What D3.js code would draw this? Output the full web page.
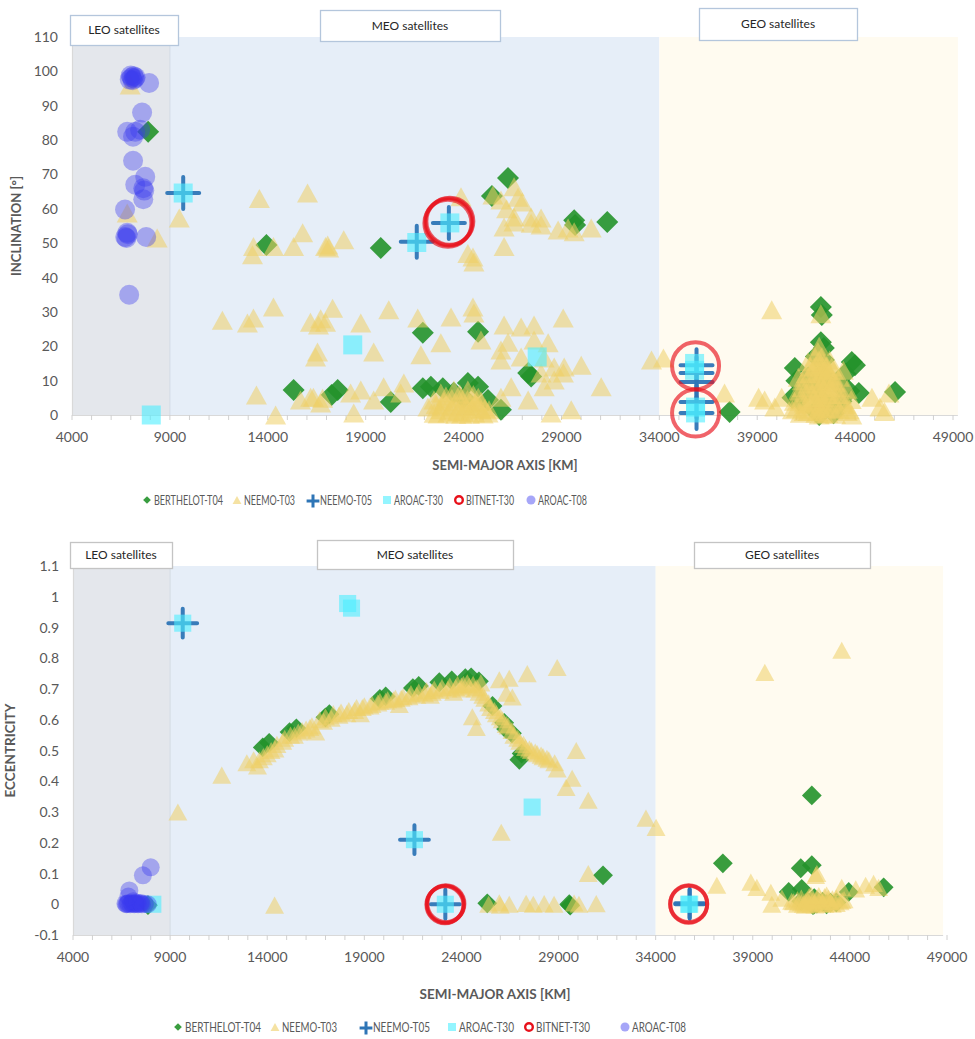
<!DOCTYPE html>
<html><head><meta charset="utf-8">
<script src="https://cdn.jsdelivr.net/npm/d3@7"></script>
<style>body{margin:0;background:#fff}svg{display:block}</style>
</head><body>
<svg id="chart" width="975" height="1039"></svg>
<script>
// ---------- axis ticks & categories ----------
const xTicks = [4000, 9000, 14000, 19000, 24000, 29000, 34000, 39000, 44000, 49000];
const incTicks = [0, 10, 20, 30, 40, 50, 60, 70, 80, 90, 100, 110];
const eccTicks = [-0.1, 0, 0.1, 0.2, 0.3, 0.4, 0.5, 0.6, 0.7, 0.8, 0.9, 1, 1.1];
const regionNames = ["LEO satellites", "MEO satellites", "GEO satellites"];
const regionBounds = [4000, 9000, 34000];   // semi-major axis [km] where each band starts
const seriesNames = ["BERTHELOT-T04", "NEEMO-T03", "NEEMO-T05", "AROAC-T30", "BITNET-T30", "AROAC-T08"];

// ---------- inclination chart: [semi-major axis km, inclination deg] ----------
const berthelotInc = [[7890,82.4],[13930,49.5],[15320,7.3],[17260,5.8],[17570,7.3],[19770,48.6],[21920,23.9],[24740,24.2],[27300,12.2],[27450,11.2],
 [29650,56.7],[29700,55.3],[31340,56.2],[26270,69],[25450,63.7],
 [20280,3.8],[21920,7.8],[22330,8.2],[22940,7.8],[24220,9.3],[24740,8.2],[25250,4.4],[25910,1.5],[23500,6.5],[24000,5],
 [42250,31.4],[42300,29.1],[42250,21.2],[42400,19.5],[40920,13.7],[43830,15.4],[43990,14.5],[41120,4.4],[44190,6.4],[46040,6.7],[37590,0.9],
 [42164,0],[42100,2],[42200,5],[41800,8],[42500,10],[42300,12],[41600,11],[42700,3],[42000,1],[43100,9],[41300,6],[42900,0.5],[42400,16],[43300,4],
 [40800,5],[43700,7],[41000,10],[43500,12],[42000,17]];
const neemoT03Inc = [[6970,96],[6820,58.8],[8350,51.5],[9480,57.3],[13570,63],[16030,64.6],
 [13220,46.6],[13270,49],[14290,49],[15320,49],[15780,53],[17060,49.5],[17110,48.6],[16950,49],[17880,51],
 [11680,27.6],[12960,26.8],[13270,28.2],[14290,31.4],[16180,27],[16590,26.2],[16950,27],[17310,31.1],[16540,18.3],[16440,16.9],[16700,28],
 [13420,5.8],[14400,0],[15670,4.4],[16330,5.2],[16800,4.9],
 [18750,26.8],[20180,30.6],[21660,28.2],[23360,28.5],[24480,31.4],[24530,29.7],[26070,26.2],[26940,25.6],[27600,26.2],[29090,28.2],
 [19410,18.3],[22840,21],[21820,17.5],[24890,21.8],[25910,18.9],[26270,21.2],[27600,21.8],[28320,21],
 [25910,16],[26940,16.9],[28120,16.6],[28630,14],[29140,14],[30010,14.5],[31030,8.2],[28470,0.6],[29500,1.5],
 [22490,4.4],[23360,2.3],[23870,5.2],[24380,3.5],[24890,1.5],[25250,0.6],[23200,0.6],[22840,1.5],[22180,2.3],[24220,7.3],[23510,7.3],[22840,6.4],[24750,5.2],[24560,0.6],[23700,1],[24100,2.5],[23000,4],[24600,3.5],[22500,0.5],[23900,0.3],
 [22600,3],[22900,2.8],[23100,5.5],[23300,1.2],[23600,3.8],[23800,6.2],[24000,0.8],[24200,4.5],[24400,1.8],[24700,2.8],[24900,4],[25100,2],[25300,1.5],[23400,4.8],[23600,0.2],[24300,0.2],[22700,0.3],[25000,0.3],[23900,3],[24500,6],
 [18230,6.4],[18750,7.3],[19920,8.2],[20790,6.4],[20950,9.3],[18390,0.6],[19410,4.4],[16190,5.2],[16700,3.5],
 [26430,8.2],[25910,5.2],[27300,4.4],[27960,12.2],[28630,10.2],[29100,12.2],[28120,8.2],
 [23870,63.5],[25500,64],[25910,62.6],[26580,66.4],[26780,63.4],[26580,57.6],[27450,57.6],[27960,57.3],[24480,46],[24530,44.5],[24220,47],[26070,54.7],[26580,56.2],[27450,55.8],[27960,55.3],[28830,53.8],[29340,54.4],[29650,53.3],[30520,54.4],[26070,49],[26200,60],[27000,62],
 [33600,16],[34210,16.6],[39740,30.6],[37330,6.4],[39070,5.2],[39380,4.4],[40250,5.2],[39900,2.3],[43830,0],[44860,5.2],[45270,2.3],[45730,6.4],[45500,1],
 [41500,3],[41800,6],[42000,9],[42200,12],[42400,15],[42600,10],[42800,5],[43000,2],[41700,12],[42300,17],[42100,1],[42500,7],[41300,8],[42900,13],[42200,4],[42000,0.5],[43200,8],[41900,14],[42164,0],[42300,2],[42600,0.5],[41600,1],[42164,6],[42400,3],[42700,8],[42164,10],[42250,29.5],
 [41000,2],[41200,4.5],[41400,1],[41500,6.5],[41600,9],[41700,3.5],[41800,1.5],[41900,10.5],[42000,4],[42050,12.5],[42100,7],[42150,16],[42200,2.5],[42250,9],[42300,5],[42350,13],[42400,0.3],[42450,11],[42500,3.5],[42550,14],[42600,6],[42700,11.5],[42750,1.8],[42850,9],[42950,4],[43100,6],[43200,1.5],[43400,3.5],[43600,1],[42100,18.5],[42250,15],[41950,17],[42164,20],[42000,14.5],[42400,8],[41700,7.5],[42900,10],
 [41100,7],[41300,10],[41400,3.5],[41500,12],[41700,14],[41900,5],[42600,13],[42800,7],[43000,9.5],[43200,11],[43300,6],[43500,3],[43600,7.5],[43700,1.5],[41200,0.5],[40900,4],[41100,11],[43400,13],[42700,16],[41600,15.5],[43000,0.2],[42800,14],[40800,1.5],[43800,4.5]];
const neemoT05Inc = [[9680,64.6],[21610,50.4],[23250,55.9],[35900,14.5],[35900,12.2],[35900,9.6],[35900,3.8],[35900,0.6]];
const aroacT30Inc = [[8050,0],[9680,64.6],[18340,20.4],[27760,16.9],[23300,55.9],[21610,50.2],[35800,15],[35800,13],[35850,2.3],[35850,0.6]];
const bitnetInc = [[23250,56.2],[23200,55.8],[23300,56.4],[35850,14.3],[35850,0.6]];
const aroacT08Inc = [[6950,97.6],[7050,98.2],[7150,98.6],[7250,98.3],[7100,97.4],[7000,98.8],[7200,97.9],
 [7940,96.6],[7580,88],[6820,82.4],[7230,82.4],[7120,81],[7480,83],[7120,74],[7740,69.3],[7230,67],[7640,66],[7690,65.3],[7640,62.8],[6710,59.8],[6820,53],[6720,51.8],[6780,51.5],[6850,52.6],[7790,51.8],[6920,35]];

// ---------- eccentricity chart: [semi-major axis km, eccentricity] ----------
const berthelotEcc = [[7860,-0.003],
 [13770,0.51],[14100,0.525],[15150,0.56],[15500,0.572],[17000,0.608],[17200,0.618],[19800,0.668],[20100,0.676],[21500,0.703],[21800,0.71],[22860,0.722],[23500,0.728],[24200,0.735],[24500,0.738],[24900,0.725],[25600,0.645],[26200,0.59],[26600,0.556],[26980,0.47],[27100,0.49],[26300,0.57],
 [25330,0.003],[29550,0],[29600,-0.004],
 [31290,0.094],[37460,0.133],[41470,0.117],[42040,0.127],[42040,0.354],[45740,0.055],
 [40850,0.04],[41520,0.05],[43940,0.04],[42000,0.005],[42164,0],[42300,0.002],[41800,0.01],[42600,0.008],[43000,0.005],[42164,0.02],[41500,0.01],[43300,0.006],[42800,0],[42100,-0.003]];
const neemoT03Ecc = [[12950,0.46],[13500,0.45],[13300,0.47],[13800,0.48],[14200,0.5],[14500,0.52],[14800,0.53],[15200,0.55],[15600,0.56],[16000,0.57],[16300,0.58],[16700,0.6],[17000,0.61],[17400,0.62],[17800,0.625],[18200,0.63],[18600,0.64],[19000,0.645],[19400,0.65],[19800,0.66],[20200,0.665],[20600,0.67],[21000,0.675],[21400,0.685],[21800,0.69],[22200,0.695],[22600,0.7],[23000,0.705],[23400,0.71],[23800,0.715],[24100,0.715],[24400,0.71],[24700,0.7],[24900,0.69],[25200,0.67],[25500,0.64],[25800,0.62],[26100,0.6],[26400,0.58],[26700,0.55],[27000,0.53],[27300,0.51],[27600,0.5],[27900,0.49],[28200,0.48],[28500,0.47],[28800,0.46],[23600,0.69],[22400,0.68],[24000,0.7],[25000,0.72],[20800,0.65],[18800,0.62],[16500,0.56],
 [13600,0.47],[14000,0.49],[14400,0.505],[14900,0.54],[15400,0.55],[15800,0.565],[16200,0.575],[16900,0.595],[17300,0.605],[17700,0.615],[18100,0.62],[18500,0.63],[18900,0.64],[19300,0.645],[19700,0.655],[20100,0.66],[20500,0.665],[20900,0.67],[21300,0.675],[21700,0.68],[22100,0.685],[22500,0.69],[22900,0.695],[23300,0.7],[23700,0.705],[24000,0.71],[24300,0.72],[24600,0.715],[24800,0.705],[25100,0.68],[25400,0.655],[25700,0.63],[26000,0.61],[26300,0.585],[26600,0.565],[26900,0.54],[27200,0.52],[27500,0.505],[27800,0.495],[28100,0.485],[28400,0.475],
 [9400,0.3],[11660,0.42],[14380,-0.003],[27390,0.75],[28930,0.77],[25950,0.73],[26460,0.735],[26310,0.686],[26620,0.674],[24560,0.61],[24770,0.575],[29910,0.5],[29700,0.41],[28930,0.44],[29390,0.38],[30530,0.338],[33500,0.28],[34020,0.25],[26050,0.234],[30530,0.1],
 [25400,0],[25950,0.005],[26460,0],[27330,0.003],[28260,0.002],[28770,0],[29800,0.004],[30050,0],[30940,0.002],[26000,-0.003],[27700,0],
 [39620,0.754],[43580,0.826],[37150,0.062],[38900,0.072],[39210,0.055],[39930,0.039],[39980,0],[42240,0.094],[42300,0.1],[43580,0.055],[44300,0.05],[44810,0.062],[45220,0.068],[45480,0.055],[40500,0.02],[41000,0.01],[41500,0.005],[41800,0.015],[42000,0],[42164,0.005],[42400,0.01],[42700,0],[43000,0.008],[43300,0.003],[43600,0.012],[41300,0],[42900,0.02],[41700,-0.003],
 [41100,0.008],[41300,0.015],[41500,0.02],[41700,0.01],[41900,0.025],[42100,0.012],[42300,0.02],[42500,0.015],[42700,0.025],[42900,0.01],[43100,0.018],[43300,0.02],[43500,0.008],[43700,0.015],[41600,0],[42200,-0.002],[42600,0.003],[43100,0],[41900,0.004],[42400,0.028],[42000,0.03],[42800,0.03]];
const neemoT05Ecc = [[9650,0.914],[21580,0.21],[23170,0],[35750,0],[35750,0.003]];
const aroacT30Ecc = [[9650,0.914],[18140,0.978],[18340,0.963],[21580,0.21],[27640,0.316],[23170,0],[35700,0],[35750,0],[8110,0]];
const bitnetEcc = [[23170,0],[23200,0.002],[23150,-0.002],[35700,0],[35700,0.002]];
const aroacT08Ecc = [[6750,0],[6850,0.003],[6950,0],[7050,0.002],[7150,0],[7250,0.001],[7350,0],[7450,0.002],[7550,0],[7700,0.001],[7850,0],[6800,0.001],[7000,0.004],[7200,0.003],[6900,0.045],[6850,0.025],[7600,0.094],[8000,0.12],[7100,0.01],[7300,0.005],[7500,0.004],[6700,0.002]];

// ---------- styles ----------
const styles = [
  {shape:"diamond",  fill:"#23922a", op:0.9},
  {shape:"triangle", fill:"#efcf66", op:0.55},
  {shape:"plus",     stroke:"#2e75b6", op:0.95},
  {shape:"square",   fill:"#4deeff", op:0.6},
  {shape:"ring",     stroke:"#e8101a", op:0.65},
  {shape:"circle",   fill:"#3a3af0", op:0.38}
];

const charts = [
  {data:[berthelotInc, neemoT03Inc, neemoT05Inc, aroacT30Inc, bitnetInc, aroacT08Inc],
   xr:[72,953], yr:[415,37], yDomain:[0,110], yTicks:incTicks, yFmt:d=>d, yTitle:"INCLINATION [°]",
   yTitleX:21, geoEnd:49250, s:1, ringR:23.5, titleSize:13,
   boxes:[[70,15,108,30],[320,10,180,31],[699,8,158,32]], boxStroke:"#b4c6dc",
   xTitleX:505, xTitleY:470, legendY:500, legendX:[147,237,313,387,459,531], legendW:[69,51,52,49,48,49]},
  {data:[berthelotEcc, neemoT03Ecc, neemoT05Ecc, aroacT30Ecc, bitnetEcc, aroacT08Ecc],
   xr:[73,947], yr:[935,566], yDomain:[-0.1,1.1], yTicks:eccTicks, yFmt:d=>String(+d.toFixed(1)), yTitle:"ECCENTRICITY",
   yTitleX:15, geoEnd:48800, s:0.9, ringR:18.5, titleSize:13.5,
   boxes:[[70,542,102,26],[317,540,196,29],[694,542,176,26]], boxStroke:"#c4c4c4",
   xTitleX:495, xTitleY:999, legendY:1027, legendX:[178,275,366,452,529,625], legendW:[76,55,57,55,54,54]}
];
const bandFills = ["#e4e7ec", "#e6eef8", "#fffbf0"];
const FONT = "Lato, 'Open Sans', sans-serif";

const svg = d3.select("#chart");

function markerPath(shape, x, y, s) {
  if (shape === "diamond") { const h = 11*s; return `M${x},${y-h}L${x+h},${y}L${x},${y+h}L${x-h},${y}Z`; }
  if (shape === "triangle") { const w = 21*s, h = 19*s; return `M${x},${y-h/2}L${x+w/2},${y+h/2}L${x-w/2},${y+h/2}Z`; }
  if (shape === "square") { const a = 9.5*s; return `M${x-a},${y-a}h${2*a}v${2*a}h${-2*a}Z`; }
  if (shape === "plus") { const a = 16*s; return `M${x-a},${y}H${x+a}M${x},${y-a}V${y+a}`; }
  return "";
}

charts.forEach(c => {
  const x = d3.scaleLinear().domain([xTicks[0], xTicks[xTicks.length-1]]).range(c.xr);
  const y = d3.scaleLinear().domain(c.yDomain).range(c.yr);
  const g = svg.append("g");
  const ends = [regionBounds[1], regionBounds[2], c.geoEnd];
  regionBounds.forEach((b, i) => {
    g.append("rect").attr("x", x(b)).attr("y", y(c.yDomain[1]))
      .attr("width", x(ends[i]) - x(b)).attr("height", y(c.yDomain[0]) - y(c.yDomain[1]))
      .attr("fill", bandFills[i]);
  });
  g.append("line").attr("x1", x(regionBounds[1])).attr("x2", x(regionBounds[1]))
    .attr("y1", y(c.yDomain[1])).attr("y2", y(c.yDomain[0])).attr("stroke", "#d3dbe4").attr("stroke-width", 1);
  const x0 = c.yr[0];
  g.append("line").attr("x1", c.xr[0]).attr("x2", x(c.geoEnd)).attr("y1", x0+0.5).attr("y2", x0+0.5).attr("stroke", "#d9d9d9").attr("stroke-width", 1.2);
  g.append("line").attr("x1", c.xr[0]+0.5).attr("x2", c.xr[0]+0.5).attr("y1", c.yr[1]).attr("y2", x0).attr("stroke", "#d9d9d9").attr("stroke-width", 1.2);
  const minor = d3.range(xTicks[0], xTicks[xTicks.length-1]+1, 1000);
  g.selectAll(null).data(minor).join("line")
    .attr("x1", d => x(d)).attr("x2", d => x(d)).attr("y1", x0).attr("y2", x0+5).attr("stroke", "#d0d0d0");
  g.selectAll(null).data(xTicks).join("text")
    .attr("x", d => x(d)).attr("y", x0+27).attr("text-anchor", "middle")
    .attr("font-family", FONT).attr("font-size", 14).attr("fill", "#595959").text(d => d);
  g.selectAll(null).data(c.yTicks).join("text")
    .attr("x", c.xr[0]-14).attr("y", d => y(d)+5).attr("text-anchor", "end")
    .attr("font-family", FONT).attr("font-size", 14).attr("fill", "#595959").text(c.yFmt);
  g.append("text").attr("x", c.xTitleX).attr("y", c.xTitleY).attr("text-anchor", "middle")
    .attr("font-family", FONT).attr("font-weight", "bold").attr("font-size", c.titleSize).attr("fill", "#595959")
    .text("SEMI-MAJOR AXIS [KM]");
  g.append("text").attr("transform", `translate(${c.yTitleX},${(c.yr[0]+c.yr[1])/2}) rotate(-90)`).attr("text-anchor", "middle")
    .attr("font-family", FONT).attr("font-weight", "bold").attr("font-size", c.titleSize).attr("fill", "#595959")
    .text(c.yTitle);
  c.data.forEach((pts, si) => {
    const st = styles[si];
    const sg = g.append("g");
    if (st.shape === "circle") {
      sg.selectAll("circle").data(pts).join("circle").attr("cx", d => x(d[0])).attr("cy", d => y(d[1]))
        .attr("r", 10*c.s).attr("fill", st.fill).attr("fill-opacity", st.op);
    } else if (st.shape === "ring") {
      sg.selectAll("circle").data(pts).join("circle").attr("cx", d => x(d[0])).attr("cy", d => y(d[1]))
        .attr("r", c.ringR).attr("fill", "none").attr("stroke", st.stroke).attr("stroke-width", 4).attr("stroke-opacity", st.op);
    } else if (st.shape === "plus") {
      sg.selectAll("path").data(pts).join("path").attr("d", d => markerPath("plus", x(d[0]), y(d[1]), c.s))
        .attr("stroke", st.stroke).attr("stroke-width", 4).attr("stroke-linecap", "round").attr("stroke-opacity", st.op).attr("fill", "none");
    } else {
      sg.selectAll("path").data(pts).join("path").attr("d", d => markerPath(st.shape, x(d[0]), y(d[1]), c.s))
        .attr("fill", st.fill).attr("fill-opacity", st.op);
    }
  });
  c.boxes.forEach((b, i) => {
    g.append("rect").attr("x", b[0]+0.5).attr("y", b[1]+0.5).attr("width", b[2]).attr("height", b[3])
      .attr("fill", "#fff").attr("stroke", c.boxStroke).attr("stroke-width", 1.3);
    g.append("text").attr("x", b[0]+b[2]/2).attr("y", b[1]+b[3]/2+4).attr("text-anchor", "middle")
      .attr("font-family", FONT).attr("font-size", 12).attr("fill", "#262626").text(regionNames[i]);
  });
  seriesNames.forEach((name, i) => {
    const lx = c.legendX[i], ly = c.legendY, st = styles[i];
    if (st.shape === "circle") g.append("circle").attr("cx", lx).attr("cy", ly).attr("r", 4.5).attr("fill", st.fill).attr("fill-opacity", 0.45);
    else if (st.shape === "ring") g.append("circle").attr("cx", lx).attr("cy", ly).attr("r", 3.8).attr("fill", "#fff").attr("stroke", "#e8101a").attr("stroke-width", 2.4);
    else if (st.shape === "plus") g.append("path").attr("d", markerPath("plus", lx, ly+1, 0.4)).attr("stroke", st.stroke).attr("stroke-width", 3).attr("fill", "none");
    else g.append("path").attr("d", markerPath(st.shape, lx, ly, st.shape === "diamond" ? 0.35 : 0.42)).attr("fill", st.fill).attr("fill-opacity", st.shape === "triangle" ? 0.6 : st.op);
    g.append("text").attr("x", lx + 7).attr("y", ly + 4.5).attr("font-family", FONT).attr("font-size", 12.5)
      .attr("textLength", c.legendW[i]).attr("lengthAdjust", "spacingAndGlyphs")
      .attr("fill", "#595959").text(name);
  });
});
</script>
</body></html>
